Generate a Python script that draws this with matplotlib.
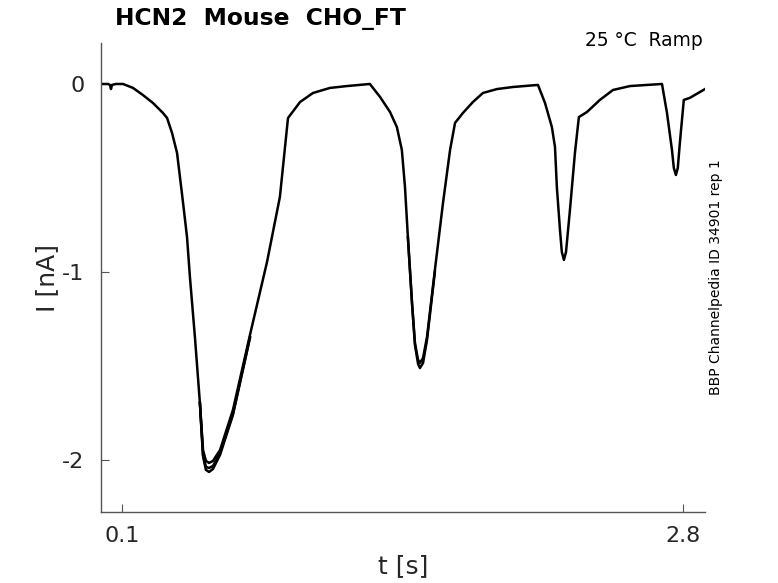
import matplotlib
matplotlib.use("Agg")
import matplotlib.pyplot as plt

plt.rcParams['font.family'] = ['DejaVu Sans']
plt.rcParams['axes.unicode_minus'] = False

# Main recorded trace (time in s, current in nA)
t_main = [0.000, 0.034, 0.043, 0.048, 0.053, 0.072, 0.106, 0.154, 0.202, 0.250,
          0.298, 0.318, 0.342, 0.366, 0.380, 0.395, 0.414, 0.428, 0.452, 0.476,
          0.491, 0.505, 0.520, 0.539, 0.573, 0.635, 0.717, 0.799, 0.861, 0.900,
          0.958, 1.020, 1.102, 1.184, 1.294, 1.343, 1.391, 1.424, 1.448, 1.463,
          1.477, 1.497, 1.511, 1.526, 1.535, 1.550, 1.569, 1.607, 1.646, 1.680,
          1.704, 1.742, 1.790, 1.838, 1.906, 1.983, 2.103, 2.137, 2.170, 2.185,
          2.194, 2.209, 2.218, 2.228, 2.238, 2.257, 2.281, 2.300, 2.339, 2.401,
          2.464, 2.546, 2.700, 2.724, 2.748, 2.757, 2.767, 2.776, 2.786, 2.805,
          2.834, 2.907]
i_main = [0.000, 0.000, -0.005, -0.027, -0.005, 0.000, 0.000, -0.021, -0.059, -0.101,
          -0.154, -0.181, -0.261, -0.367, -0.495, -0.633, -0.814, -1.027, -1.346, -1.697,
          -1.947, -2.005, -2.016, -2.005, -1.947, -1.734, -1.335, -0.947, -0.601, -0.181,
          -0.096, -0.048, -0.021, -0.011, 0.000, -0.069, -0.149, -0.229, -0.351, -0.548,
          -0.814, -1.165, -1.378, -1.468, -1.484, -1.457, -1.346, -0.989, -0.633, -0.351,
          -0.207, -0.154, -0.096, -0.048, -0.027, -0.016, -0.005, -0.101, -0.229, -0.335,
          -0.548, -0.777, -0.894, -0.936, -0.894, -0.670, -0.367, -0.176, -0.149, -0.085,
          -0.032, -0.011, 0.000, -0.154, -0.351, -0.447, -0.484, -0.447, -0.314, -0.085,
          -0.074, -0.027]

# Other repetitions, where they separate from the main trace (first two dips)
t_rep2 = [0.476, 0.491, 0.505, 0.520, 0.539, 0.573, 0.635, 0.717]
i_rep2 = [-1.697, -1.973, -2.037, -2.043, -2.032, -1.963, -1.755, -1.346]
t_rep3 = [0.476, 0.491, 0.505, 0.520, 0.539, 0.573, 0.635, 0.717]
i_rep3 = [-1.697, -1.980, -2.053, -2.064, -2.048, -1.973, -1.760, -1.351]
t_rep4 = [1.477, 1.497, 1.511, 1.526, 1.535, 1.550, 1.569, 1.607]
i_rep4 = [-0.814, -1.170, -1.388, -1.489, -1.511, -1.484, -1.362, -0.999]

x_ticks = [0.1, 2.8]
x_ticklabels = ["0.1", "2.8"]
y_ticks = [-2, -1, 0]
y_ticklabels = ["-2", "-1", "0"]

fig = plt.figure(figsize=(7.78, 5.83), dpi=100)
ax = fig.add_axes([101/778, 1 - 512/583, (705-101)/778, (512-43)/583])

lw = 1.8
ax.plot(t_main, i_main, color='black', lw=lw)
ax.plot(t_rep2, i_rep2, color='black', lw=lw)
ax.plot(t_rep3, i_rep3, color='black', lw=lw)
ax.plot(t_rep4, i_rep4, color='black', lw=lw)

ax.set_xlim(0, 2.907)
ax.set_ylim(-2.277, 0.218)
ax.set_xticks(x_ticks)
ax.set_xticklabels(x_ticklabels)
ax.set_yticks(y_ticks)
ax.set_yticklabels(y_ticklabels)

for s in ['top', 'right']:
    ax.spines[s].set_visible(False)
for s in ['left', 'bottom']:
    ax.spines[s].set_color('#555555')
    ax.spines[s].set_linewidth(1.0)
ax.tick_params(direction='in', length=6, width=0.8, color='#555555',
               labelsize=16, labelcolor='#262626')
ax.tick_params(axis='x', pad=10)
ax.tick_params(axis='y', pad=12)

ax.set_xlabel('t [s]', fontsize=18, color='#262626', labelpad=6)
ax.set_ylabel('I [nA]', fontsize=18, color='#262626', labelpad=2)

fig.text(115/778, 1 - 18/583, 'HCN2  Mouse  CHO_FT', fontsize=16.8, fontweight='bold',
         ha='left', va='center', color='black')
fig.text(703/778, 1 - 40/583, '25 °C  Ramp', fontsize=13.4, ha='right', va='center',
         color='black')
fig.text(716/778, 1 - 277/583, 'BBP Channelpedia ID 34901 rep 1', fontsize=10,
         rotation=90, ha='center', va='center', color='black')

fig.savefig('out.png', dpi=100)
